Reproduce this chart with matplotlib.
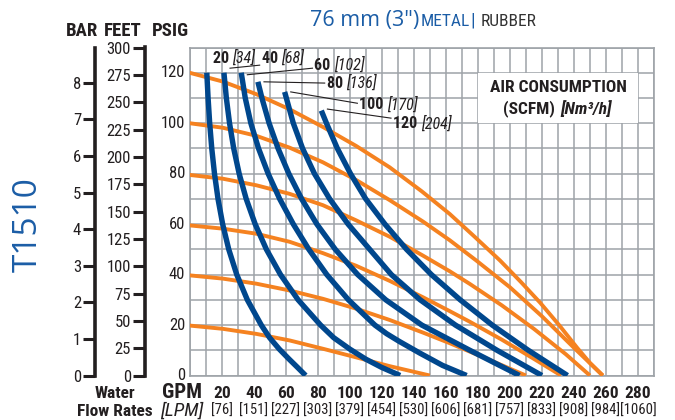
import matplotlib
matplotlib.use("Agg")
import matplotlib.pyplot as plt
import matplotlib.font_manager as fm

# ---------------- data ----------------
psi_ticks = [0, 20, 40, 60, 80, 100, 120]
feet_ticks = [0, 25, 50, 75, 100, 125, 150, 175, 200, 225, 250, 275, 300]
bar_ticks = [0, 1, 2, 3, 4, 5, 6, 7, 8]
gpm_ticks = [20, 40, 60, 80, 100, 120, 140, 160, 180, 200, 220, 240, 260, 280]
lpm_labels = ["[76]", "[151]", "[227]", "[303]", "[379]", "[454]", "[530]", "[606]",
              "[681]", "[757]", "[833]", "[908]", "[984]", "[1060]"]

# orange: discharge pressure curves at air inlet pressure (psig)
air_psi = [20, 40, 60, 80, 100, 120]
orange_gpm = [
    [0, 20.8, 41.7, 62.5, 83.3, 104, 125, 150],
    [0, 20.8, 41.7, 62.5, 83.3, 104, 125, 145.8, 162.5, 185, 210],
    [0, 20.8, 41.7, 62.5, 83.3, 104, 125, 145.8, 162.5, 175, 195, 215, 232],
    [0, 20.8, 41.7, 62.5, 83.3, 104, 125, 145.8, 162.5, 175, 195, 215, 235, 250],
    [0, 20.8, 41.7, 62.5, 83.3, 104, 125, 145.8, 162.5, 179, 200, 220, 240, 258],
    [0, 20.8, 41.7, 62.5, 83.3, 104, 125, 145, 162.5, 178, 194, 207, 219, 231, 242, 250, 258],
]
orange_psi = [
    [19.8, 18.5, 16.5, 13.9, 10.6, 7.2, 3.7, 0],
    [39.7, 38.4, 36.4, 33.7, 30.4, 26.5, 22, 17, 12.8, 6.8, 0],
    [59.5, 58.2, 56.2, 53, 48.5, 43.5, 37.5, 31, 25.5, 21.3, 14.2, 6.6, 0],
    [79.5, 78, 75.4, 72, 67.5, 61.5, 55, 47.5, 41.3, 36.3, 27.8, 18.5, 8.4, 0],
    [100, 98.2, 95, 90.3, 84.5, 77.5, 69.5, 61, 53.6, 45.6, 35, 23.5, 11, 0],
    [120, 116.5, 111.5, 105.5, 98.5, 91, 82.5, 73, 64, 55, 45.5, 37, 28.8, 19.8, 11, 5, 0],
]

# blue: air consumption curves (SCFM)
scfm = [20, 40, 60, 80, 100, 120]
nm3h = [34, 68, 102, 136, 170, 204]
blue_gpm = [
    [10.8, 11.6, 12.6, 13.9, 15.6, 17.8, 20.7, 24.5, 29.5, 36.1, 44.8, 50, 56, 62, 67.3, 72.5],
    [21.5, 23, 25, 27.6, 31, 35.4, 41, 48, 56.8, 67.8, 81.8, 90, 100, 110, 120, 131.5],
    [32.3, 34.8, 38.3, 43.1, 49.1, 56.3, 64.8, 74.5, 85.7, 99.2, 115.7, 123, 131, 143.75, 158, 173],
    [42.7, 45.2, 49.7, 55.3, 62, 70, 79.5, 91, 105, 122.5, 145, 175, 206],
    [59.4, 64.8, 70.6, 78, 87.5, 99, 112.5, 126, 144, 166, 192, 220],
    [82.3, 85.5, 92.3, 100.5, 110, 122, 135.5, 151, 169, 189, 211.5, 236],
]
blue_psi = [
    [120, 110, 100, 90, 80, 70, 60, 50, 40, 30, 20, 15, 10.5, 6.6, 3.3, 0],
    [120, 110, 100, 90, 80, 70, 60, 50, 40, 30, 20, 15, 10.5, 6.5, 3.2, 0],
    [120, 110, 100, 90, 80, 70, 60, 50, 40, 30, 20, 16.6, 13.5, 8.9, 4, 0],
    [116.4, 110, 100, 90, 80, 70, 60, 50, 40, 30, 20, 10, 0],
    [112.4, 100, 90, 80, 70, 60, 50, 40, 30, 20, 10, 0],
    [105, 100, 90, 80, 70, 60, 50, 40, 30, 20, 10, 0],
]

# ---------------- style ----------------
names = {f.name for f in fm.fontManager.ttflist}
COND = next((n for n in ["Liberation Sans Narrow", "Roboto Condensed", "DejaVu Sans"] if n in names), "DejaVu Sans")
STRETCH = "condensed" if COND == "DejaVu Sans" else "normal"
TITLEF = next((n for n in ["Open Sans", "Noto Sans", "DejaVu Sans"] if n in names), "DejaVu Sans")

DARK = "#231f20"
GRID = "#9ea3a8"
ORANGE = "#f58220"
BLUE = "#00478d"
TBLUE = "#1b5da6"

W, H = 675, 420
fig = plt.figure(figsize=(6.75, 4.2), dpi=100)
fig.patch.set_facecolor("white")


def fx(px):
    return px / W


def fy(py):
    return 1 - py / H


top_px, bot_px = 47.5, 375.5
left_px, right_px = 189.5, 654
ax = fig.add_axes([fx(left_px), fy(bot_px), (right_px - left_px) / W, (bot_px - top_px) / H])
ax.set_xlim(0, 290)
ax.set_ylim(0, 130)
ax.set_xticks(range(0, 291, 10))
ax.set_yticks(range(0, 131, 10))
ax.grid(True, color=GRID, linewidth=1.1)
ax.set_axisbelow(True)
for s in ax.spines.values():
    s.set_color(GRID)
    s.set_linewidth(1.2)
ax.tick_params(length=0, labelbottom=False, labelleft=False)

# PSIG labels
for v in psi_ticks:
    ax.text(-2.6, v, str(v), ha="right", va="center",
            fontsize=12, family=COND, stretch=STRETCH, color=DARK, clip_on=False)

# curves
for g, p in zip(orange_gpm, orange_psi):
    ax.plot(g, p, color=ORANGE, lw=2.8, solid_capstyle="butt", solid_joinstyle="round", zorder=3)
for g, p in zip(blue_gpm, blue_psi):
    ax.plot(g, p, color=BLUE, lw=3.9, solid_capstyle="butt", solid_joinstyle="round", zorder=4)

# curve labels with leaders
lab_pos = [(14.4, 125.8), (45, 125.8), (78, 123), (85.6, 115.9), (106, 107.5), (127, 100)]
lead_start_dy = [0, 1.8, -0.8, 0, 0, 0.6]
lead_end_dy = [0, -2.8, -1.2, 0, 0.4, 2.0]
for i, (s, n) in enumerate(zip(scfm, nm3h)):
    lx, ly = lab_pos[i]
    t = ax.text(lx, ly, f"{s} ", ha="left", va="center", fontsize=11.5, family=COND,
                stretch=STRETCH, weight="bold", color=DARK, zorder=6)
    ax.annotate(f"[{n}]", xycoords=t, xy=(1, 0.5), va="center", ha="left", fontsize=11.5,
                family=COND, stretch=STRETCH, style="italic", color=DARK, zorder=6)
    if i > 0:
        x0, y0 = blue_gpm[i][0] + 3.8, blue_psi[i][0] + lead_start_dy[i]
        ax.plot([x0, lx - 1.2], [y0, ly + lead_end_dy[i]], color=DARK, lw=0.8, zorder=5,
                clip_on=False)

# air consumption box
ax.add_patch(plt.Rectangle(((478 - 190) / 1.6, (375 - 123) / 2.52), 160 / 1.6, 50 / 2.52,
                           facecolor="white", edgecolor="none", zorder=2))
fig.text(fx(558), fy(88), "AIR CONSUMPTION", ha="center", va="center", fontsize=12.5,
         family=COND, stretch=STRETCH, weight="bold", color=DARK)
fig.text(fx(559), fy(109), "(SCFM) ", ha="right", va="center", fontsize=12.5,
         family=COND, stretch=STRETCH, weight="bold", color=DARK)
fig.text(fx(560), fy(109), "[Nm\u00b3/h]", ha="left", va="center", fontsize=12.5,
         family=COND, stretch=STRETCH, weight="bold", style="italic", color=DARK)

# FEET axis
feet_ax = fig.add_axes([fx(145), fy(bot_px), 0.0001, (bot_px - top_px) / H])
feet_ax.set_ylim(0, 130 * 2.31)
feet_ax.set_yticks(feet_ticks)
feet_ax.set_yticklabels([str(v) for v in feet_ticks], family=COND, stretch=STRETCH,
                        fontsize=12, color=DARK)
feet_ax.tick_params(axis="y", length=8.5, width=2.2, color=DARK, pad=1.5)
feet_ax.set_xticks([])
for k, s in feet_ax.spines.items():
    s.set_visible(k == "left")
feet_ax.spines["left"].set_linewidth(2.6)
feet_ax.spines["left"].set_color(DARK)
feet_ax.patch.set_visible(False)

# BAR axis
bar_ax = fig.add_axes([fx(95), fy(bot_px), 0.0001, (bot_px - top_px) / H])
bar_ax.set_ylim(0, 130 / 14.5038)
bar_ax.set_yticks(bar_ticks)
bar_ax.set_yticklabels([str(v) for v in bar_ticks], family=COND, stretch=STRETCH,
                       fontsize=12, color=DARK)
bar_ax.tick_params(axis="y", length=8.5, width=2.2, color=DARK, pad=1.5)
bar_ax.set_xticks([])
for k, s in bar_ax.spines.items():
    s.set_visible(k == "left")
bar_ax.spines["left"].set_linewidth(2.6)
bar_ax.spines["left"].set_color(DARK)
bar_ax.patch.set_visible(False)

# headers
for txt, cx in [("BAR", 82), ("FEET", 123), ("PSIG", 170)]:
    fig.text(fx(cx), fy(31), txt, ha="center", va="center", fontsize=13.5, family=COND,
             stretch=STRETCH, weight="bold", color=DARK)

# title
fig.text(fx(419), fy(26), "76 mm (3\")", ha="right", va="baseline", fontsize=15.5,
         family=TITLEF, color=TBLUE)
fig.text(fx(421), fy(26), "METAL", ha="left", va="baseline", fontsize=12.5, family=COND,
         stretch=STRETCH, color=TBLUE)
fig.text(fx(470), fy(26), "|", ha="left", va="baseline", fontsize=13.5, family=COND,
         stretch=STRETCH, color=TBLUE)
fig.text(fx(481), fy(26), "RUBBER", ha="left", va="baseline", fontsize=12.5, family=COND,
         stretch=STRETCH, color="#333333")

# model name
fig.text(fx(28), fy(225), "T1510", rotation=90, ha="center", va="center", fontsize=24,
         family=TITLEF, color=TBLUE)

# bottom labels
for v, l in zip(gpm_ticks, lpm_labels):
    x = fx(190 + 1.6 * v)
    fig.text(x, fy(393), str(v), ha="center", va="center", fontsize=12.5, family=COND,
             stretch=STRETCH, weight="bold", color=DARK)
    fig.text(x, fy(411), l, ha="center", va="center", fontsize=10.5, family=COND,
             stretch=STRETCH, color=DARK)
fig.text(fx(182), fy(393), "GPM", ha="center", va="center", fontsize=15, family=COND,
         stretch=STRETCH, weight="bold", color=DARK)
fig.text(fx(182), fy(411), "[LPM]", ha="center", va="center", fontsize=14, family=COND,
         stretch=STRETCH, style="italic", color=DARK)
fig.text(fx(115), fy(393), "Water", ha="center", va="center", fontsize=12.5, family=COND,
         stretch=STRETCH, weight="bold", color=DARK)
fig.text(fx(114.5), fy(412), "Flow Rates", ha="center", va="center", fontsize=12.5,
         family=COND, stretch=STRETCH, weight="bold", color=DARK)

fig.savefig("out.png", dpi=100, facecolor="white")
